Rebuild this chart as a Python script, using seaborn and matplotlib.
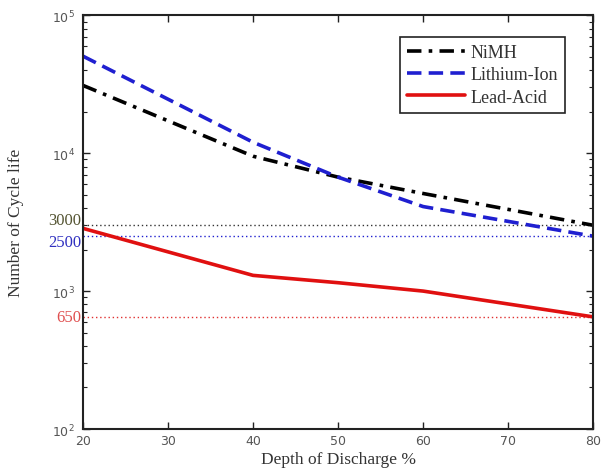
import numpy as np
import pandas as pd
import matplotlib
matplotlib.use("Agg")
import matplotlib.pyplot as plt
import matplotlib.transforms as mtransforms
import seaborn as sns
from matplotlib.ticker import LogLocator, NullFormatter

# Data
dod = [20, 40, 50, 60, 80]
nimh = [31000, 9500, 6700, 5100, 3000]
li_ion = [50500, 12000, 6700, 4100, 2500]
lead_acid = [2850, 1300, 1150, 1000, 650]
series_names = ["NiMH", "Lithium-Ion", "Lead-Acid"]
ref_values = [3000, 2500, 650]
ref_labels = ["3000", "2500", "650"]
x_ticks = [20, 30, 40, 50, 60, 70, 80]

df = pd.DataFrame({
    "DoD": dod * 3,
    "Cycles": nimh + li_ion + lead_acid,
    "Battery": [series_names[0]] * len(dod) + [series_names[1]] * len(dod) + [series_names[2]] * len(dod),
})

sns.set_theme(style="ticks")
plt.rcParams['font.family'] = ['DejaVu Sans']

fig = plt.figure(figsize=(6.01, 4.77), dpi=100)
ax = fig.add_axes([0.138, 0.0985, 0.849, 0.8675])

colors = {"NiMH": "black", "Lithium-Ion": "#1f1fd0", "Lead-Acid": "#e01010"}
dashes = {"NiMH": (4, 2, 1, 2), "Lithium-Ion": (4, 2), "Lead-Acid": ""}
sns.lineplot(data=df, x="DoD", y="Cycles", hue="Battery", style="Battery",
             palette=colors, dashes=dashes, linewidth=2.6, ax=ax, legend=True)

ax.set_yscale("log")
ax.set_xlim(20, 80)
ax.set_ylim(100, 100000)

# reference dotted lines
ref_colors = ["#333333", "#2020d0", "#e03030"]
label_colors = ["#555533", "#3030c0", "#e05050"]
label_offsets = [4, -4, 0]  # points, vertical nudge for readability
for v, lab, c, lc, off in zip(ref_values, ref_labels, ref_colors, label_colors, label_offsets):
    ax.plot([20, 80], [v, v], linestyle=(0, (1, 2)), color=c, linewidth=1.0, zorder=1)
    tr = mtransforms.offset_copy(ax.get_yaxis_transform(), fig=fig, x=0, y=off, units="points")
    ax.text(-0.003, v, lab, transform=tr, ha="right", va="center",
            color=lc, fontsize=12, family="Liberation Serif")

ax.set_xticks(x_ticks)
ax.yaxis.set_major_locator(LogLocator(base=10, numticks=10))
ax.yaxis.set_minor_locator(LogLocator(base=10, subs=np.arange(2, 10), numticks=10))
ax.yaxis.set_minor_formatter(NullFormatter())
ax.tick_params(axis="both", which="both", direction="in", top=True, right=True,
               labelsize=9, labelcolor="#555555", color="#222222")
ax.tick_params(axis="both", which="major", length=5, width=1)
ax.tick_params(axis="y", which="minor", length=3, width=0.8)
ax.tick_params(axis="y", which="major", pad=6)

for s in ax.spines.values():
    s.set_color("#222222")
    s.set_linewidth(1.5)

ax.set_xlabel("Depth of Discharge %", family="Liberation Serif", fontsize=12.5, color="#333333", labelpad=3)
ax.set_ylabel("Number of Cycle life", family="Liberation Serif", fontsize=12.5, color="#333333", labelpad=20)

leg = ax.legend(loc="upper right", bbox_to_anchor=(0.962, 0.97), frameon=True, fancybox=False,
                edgecolor="#222222", framealpha=1, handlelength=3.2, handletextpad=0.3,
                borderpad=0.4, labelspacing=0.3,
                prop={"family": "Liberation Serif", "size": 13})
leg.get_frame().set_linewidth(1.2)
for t in leg.get_texts():
    t.set_color("#333333")

fig.savefig("out.png", dpi=100)
